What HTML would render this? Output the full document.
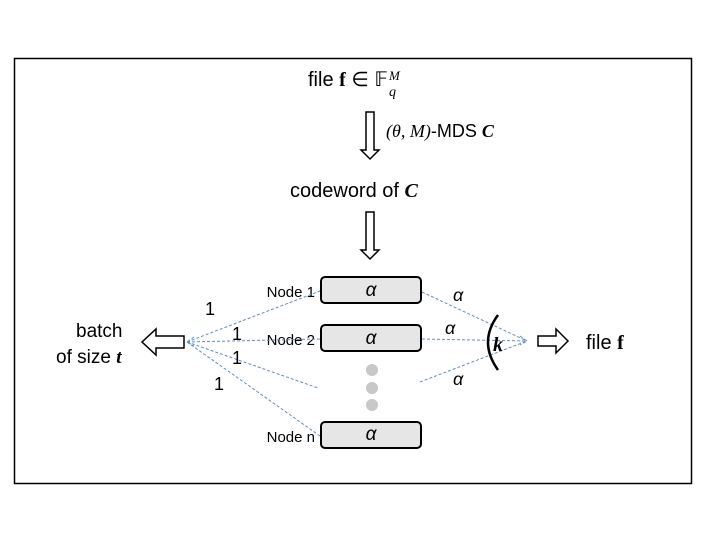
<!DOCTYPE html>
<html><head><style>
body{margin:0;background:#fff;width:706px;height:530px;overflow:hidden}
svg text{font-family:"Liberation Sans",sans-serif;fill:#000}
.s{font-family:"Liberation Serif",serif;font-style:italic}
</style></head><body>
<svg width="706" height="530" xmlns="http://www.w3.org/2000/svg">
<rect x="14.5" y="58.5" width="677" height="425" fill="none" stroke="#000" stroke-width="1.5"/>
<text x="308" y="86" font-size="20">file <tspan font-family="Liberation Serif" font-weight="bold">f</tspan> ∈ 𝔽</text>
<text x="389" y="80" font-size="13" class="s">M</text>
<text x="389" y="96" font-size="14" class="s">q</text>
<path d="M366,112 h8 v38 h5 l-9,9 l-9,-9 h5 z" fill="#fff" stroke="#000" stroke-width="1.5"/>
<text x="386" y="137" font-size="18"><tspan class="s" font-family="Liberation Serif">(θ, M)</tspan>-MDS <tspan class="s" font-weight="bold">C</tspan></text>
<text x="290" y="197" font-size="20">codeword of <tspan class="s" font-weight="bold" font-family="Liberation Serif">C</tspan></text>
<path d="M366,212 h8 v38 h5 l-9,9 l-9,-9 h5 z" fill="#fff" stroke="#000" stroke-width="1.5"/>
<g stroke="#000" stroke-width="2" fill="#e6e6e6">
<rect x="321" y="277" width="100" height="26" rx="4"/>
<rect x="321" y="325" width="100" height="26" rx="4"/>
<rect x="321" y="422" width="100" height="26" rx="4"/>
</g>
<g font-size="19" class="s" text-anchor="middle">
<text x="371" y="296">α</text><text x="371" y="344">α</text><text x="371" y="440">α</text>
</g>
<g font-size="15" text-anchor="end">
<text x="315" y="297">Node 1</text><text x="315" y="345">Node 2</text><text x="315" y="442">Node n</text>
</g>
<g fill="#c8c8c8"><circle cx="372" cy="370" r="6"/><circle cx="372" cy="388" r="6"/><circle cx="372" cy="405" r="6"/></g>
<g stroke="#5b8fd0" stroke-width="1" stroke-dasharray="3,2" fill="none">
<line x1="187" y1="342" x2="320" y2="291"/>
<line x1="187" y1="342" x2="320" y2="339"/>
<line x1="187" y1="342" x2="318" y2="388"/>
<line x1="187" y1="342" x2="320" y2="436"/>
<line x1="422" y1="292" x2="527" y2="341"/>
<line x1="422" y1="339" x2="527" y2="341"/>
<line x1="420" y1="382" x2="527" y2="341"/>
<path d="M194,337 l-7,5 l7,4 M520,336 l7,5 l-7,4"/>
</g>
<g font-size="18" font-family="Liberation Serif">
<text x="205" y="315">1</text><text x="232" y="340">1</text><text x="232" y="364">1</text><text x="214" y="390">1</text>
</g>
<g font-size="18" class="s">
<text x="453" y="301">α</text><text x="445" y="334">α</text><text x="453" y="385">α</text>
</g>
<path d="M498,315 Q478,342 498,370" fill="none" stroke="#000" stroke-width="2.5"/>
<text x="493" y="351" font-size="20" class="s" font-weight="bold">k</text>
<path d="M538,336 h18 v-7 l12,12 l-12,12 v-7 h-18 z" fill="#fff" stroke="#000" stroke-width="1.5"/>
<text x="586" y="349" font-size="20">file <tspan font-family="Liberation Serif" font-weight="bold">f</tspan></text>
<path d="M184,336 h-28 v-7 l-14,13 l14,13 v-7 h28 z" fill="#fff" stroke="#000" stroke-width="1.5"/>
<text x="76" y="337" font-size="19">batch</text>
<text x="56" y="363" font-size="19">of size <tspan class="s" font-weight="bold" font-family="Liberation Serif">t</tspan></text>
</svg>
</body></html>
